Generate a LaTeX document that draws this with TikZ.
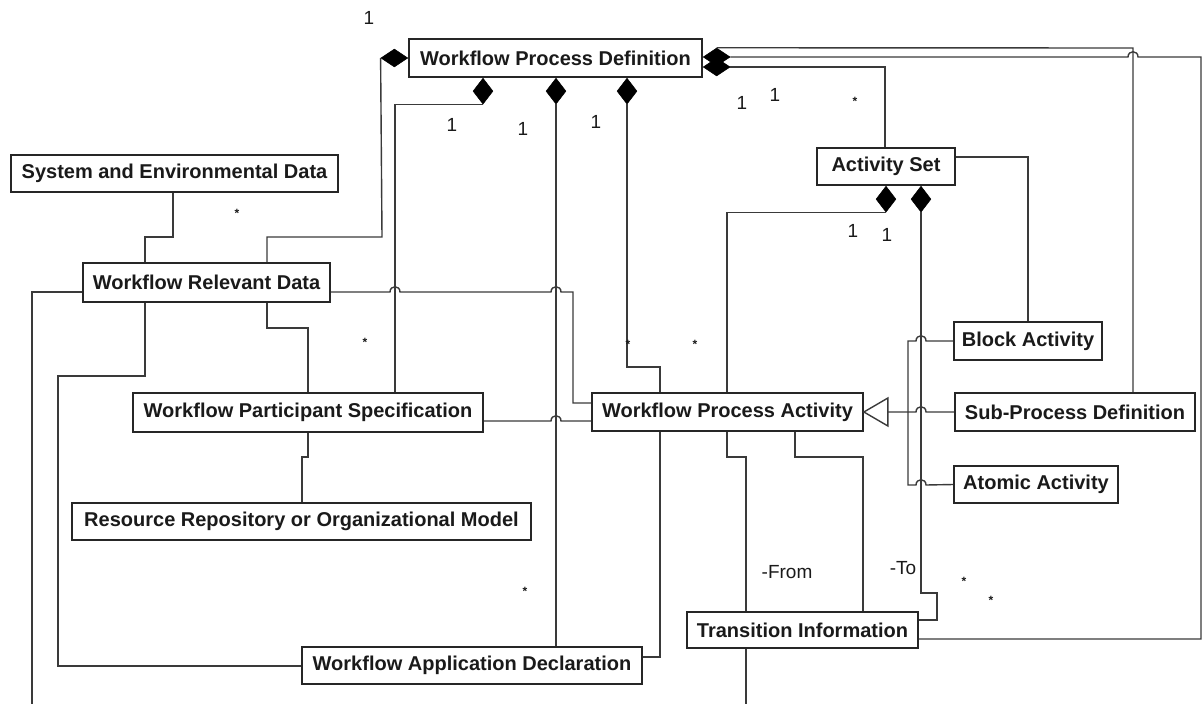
\documentclass[tikz,border=0pt]{standalone}
\usepackage{fontspec}
\setmainfont{Liberation Sans}
\usetikzlibrary{shapes.geometric,calc}
\definecolor{ln}{HTML}{3A3A3A}
\definecolor{bx}{HTML}{262626}
\definecolor{tx}{HTML}{1A1A1A}
\begin{document}
\begin{tikzpicture}[x=1pt,y=-1pt,
 box/.style={draw=bx, line width=1.8pt, fill=white, rectangle, inner sep=0, text=tx, font=\fontsize{20}{24}\selectfont\bfseries},
 conn/.style={draw=ln, line width=1.4pt},
 hdiam/.style={diamond, fill=black, draw=black, line width=0.5pt, minimum width=27, minimum height=18, inner sep=0},
 vdiam/.style={diamond, fill=black, draw=black, line width=0.5pt, minimum width=20, minimum height=26, inner sep=0},
 mult/.style={text=tx, font=\fontsize{19}{22}\selectfont, inner sep=0},
 many/.style={text=tx, font=\fontsize{12}{14}\selectfont\bfseries, inner sep=0},
 hopR/.style args={#1/#2}{insert path={-- (#1-5,#2) .. controls (#1-5,#2-7) and (#1+5,#2-7) .. (#1+5,#2)}},
 hopL/.style args={#1/#2}{insert path={-- (#1+5,#2) .. controls (#1+5,#2-7) and (#1-5,#2-7) .. (#1-5,#2)}}
]
\useasboundingbox (0,0) rectangle (1204,704);

% boxes
\node[box, minimum width=293, minimum height=38] (wpd) at (555.5,58) {Workflow Process Definition};
\node[box, minimum width=327, minimum height=37] (sed) at (174.5,173.5) {System and Environmental Data};
\node[box, minimum width=247, minimum height=39] (wrd) at (206.5,282.5) {Workflow Relevant Data};
\node[box, minimum width=350, minimum height=39] (wps) at (308,412.5) {Workflow Participant Specification};
\node[box, minimum width=459, minimum height=37] (rrom) at (301.5,521.5) {Resource Repository or Organizational Model};
\node[box, minimum width=340, minimum height=37] (wad) at (472,665.5) {Workflow Application Declaration};
\node[box, minimum width=271, minimum height=38] (wpa) at (727.5,412) {Workflow Process Activity};
\node[box, minimum width=231, minimum height=36] (ti) at (802.5,630) {Transition Information};
\node[box, minimum width=138, minimum height=37] (as) at (886,166.5) {Activity Set};
\node[box, minimum width=148, minimum height=38] (ba) at (1028,341) {Block Activity};
\node[box, minimum width=240, minimum height=38] (spd) at (1075,412) {Sub-Process Definition};
\node[box, minimum width=164, minimum height=37] (aa) at (1036,484.5) {Atomic Activity};

% composition diamonds
\node[hdiam, anchor=east] (dL) at (wpd.west) {};
\node[vdiam, anchor=north] (d1) at (483,0 |- wpd.south) {};
\node[vdiam, anchor=north] (d2) at (556,0 |- wpd.south) {};
\node[vdiam, anchor=north] (d3) at (627,0 |- wpd.south) {};
\node[hdiam, anchor=west] (dR1) at ([yshift=1pt]wpd.east) {};
\node[hdiam, anchor=west] (dR2) at ([yshift=-9pt]wpd.east) {};
\node[vdiam, anchor=north] (a1) at (886,0 |- as.south) {};
\node[vdiam, anchor=north] (a2) at (921,0 |- as.south) {};

% free ends
\coordinate (offL) at (32,704);
\coordinate (offB) at (746,704);

% connectors
\draw[conn] (dL.west) -- (382,237) -- (267,237) -- (267,0 |- wrd.north);
\draw[conn] (d1.south) -- (395,0 |- d1.south) -- (395,0 |- wps.north);
\draw[conn] (d2.south) -- (556,0 |- wad.north);
\draw[conn] (d3.south) -- (627,367) -- (660,367) -- (660,0 |- wpa.north);
\draw[conn] (dR1.north) -- (1133,48) -- (1133,0 |- spd.north);
\draw[conn] (dR1.east) [hopR=1133/57] -- (1201,57) -- (1201,639) -- (ti.east |- 0,639);
\draw[conn] (dR2.east) -- (885,67) -- (885,0 |- as.north);
\draw[conn] (a1.south) -- (727,0 |- a1.south) -- (727,0 |- wpa.north);
\draw[conn] (a2.south) -- (921,593) -- (937,593) -- (937,620) -- (ti.east |- 0,620);

\draw[conn] (173,0 |- sed.south) -- (173,237) -- (145,237) -- (145,0 |- wrd.north);
\draw[conn] (145,0 |- wrd.south) -- (145,376) -- (58,376) -- (58,666) -- (wad.west |- 0,666);
\draw[conn] (267,0 |- wrd.south) -- (267,328) -- (308,328) -- (308,0 |- wps.north);
\draw[conn] (wrd.west |- 0,292) -- (32,292) -- (offL);
\draw[conn] (wrd.east |- 0,292) [hopR=395/292] [hopR=556/292] -- (573,292) -- (573,403) -- (wpa.west |- 0,403);
\draw[conn] (wps.east |- 0,421) [hopR=556/421] -- (wpa.west |- 0,421);
\draw[conn] (308,0 |- wps.south) -- (308,457) -- (302,457) -- (302,0 |- rrom.north);
\draw[conn] (660,0 |- wpa.south) -- (660,657) -- (wad.east |- 0,657);
\draw[conn] (727,0 |- wpa.south) -- (727,457) -- (746,457) -- (746,0 |- ti.north);
\draw[conn] (746,0 |- ti.south) -- (offB);
\draw[conn] (795,0 |- wpa.south) -- (795,457) -- (863,457) -- (863,0 |- ti.north);
\draw[conn] (as.east |- 0,157) -- (1028,157) -- (1028,0 |- ba.north);

% generalization
\coordinate (tri) at ($(wpa.east)+(24,0)$);
\draw[conn] (spd.west) [hopL=921/412] -- (tri);
\draw[conn] (ba.west) [hopL=921/341] -- (908,341) -- (908,412);
\draw[conn] (aa.west) [hopL=921/485] -- (908,485) -- (908,412);
\draw[draw=ln, line width=1.4pt, fill=white] (wpa.east) -- ++(24,-14) -- ++(0,28) -- cycle;

% multiplicities
\node[mult] at (369,18) {1};
\node[mult] at (452,125) {1};
\node[mult] at (523,129) {1};
\node[mult] at (596,122) {1};
\node[mult] at (742,103) {1};
\node[mult] at (775,95) {1};
\node[mult] at (853,231) {1};
\node[mult] at (887,235) {1};
\node[many] at (855,101) {*};
\node[many] at (237,213) {*};
\node[many] at (365,342) {*};
\node[many] at (628,344) {*};
\node[many] at (695,344) {*};
\node[many] at (525,591) {*};
\node[many] at (964,581) {*};
\node[many] at (991,600) {*};
\node[mult] at (787,572) {-From};
\node[mult] at (903,568) {-To};
\end{tikzpicture}
\end{document}
